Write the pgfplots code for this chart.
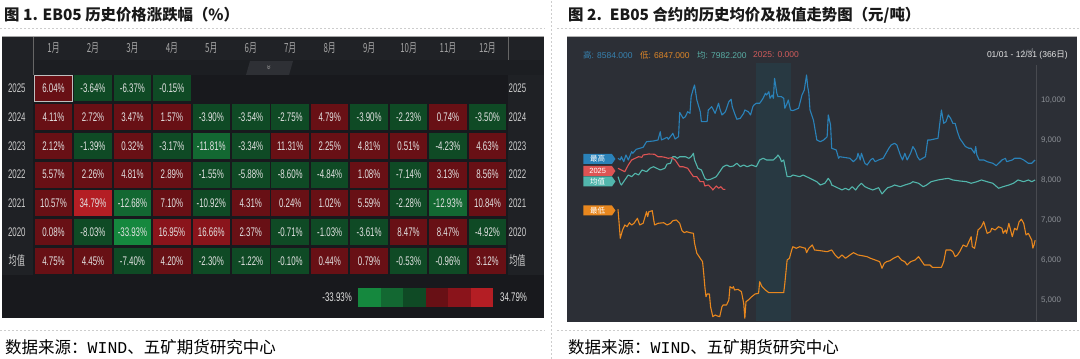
\documentclass[border=0pt]{standalone}
\usepackage{fontspec}
\usepackage{pgfplots}
\pgfplotsset{compat=1.18}
\usepackage{pgfplotstable}
\usetikzlibrary{shapes.symbols}
\setmainfont{Liberation Sans}
\setmonofont{Liberation Mono}
\newfontfamily\cjk{Noto Sans CJK SC}
\newfontfamily\narrow{Liberation Sans}[FakeStretch=0.63]
\newfontfamily\cjknarrow{Noto Sans CJK SC}[FakeStretch=0.63]

\definecolor{panelL}{RGB}{24,25,29}
\definecolor{hdrL}{RGB}{32,34,38}
\definecolor{colL}{RGB}{31,33,37}
\definecolor{arrowrow}{RGB}{28,30,34}
\definecolor{tabc}{RGB}{46,48,53}
\definecolor{hr1}{RGB}{104,16,21}
\definecolor{hr2}{RGB}{138,20,27}
\definecolor{hr3}{RGB}{180,30,36}
\definecolor{hg1}{RGB}{15,74,37}
\definecolor{hg2}{RGB}{19,104,50}
\definecolor{hg3}{RGB}{21,136,62}
\definecolor{celltxt}{RGB}{226,226,226}
\definecolor{hdrtxt}{RGB}{165,165,165}
\definecolor{panelR}{RGB}{44,47,54}
\definecolor{bandc}{RGB}{40,57,66}
\definecolor{cblue}{RGB}{42,130,185}
\definecolor{cteal}{RGB}{82,182,172}
\definecolor{cred}{RGB}{222,84,84}
\definecolor{corange}{RGB}{232,135,30}
\definecolor{tickc}{RGB}{140,144,150}
\definecolor{dashc}{RGB}{205,205,205}

\pgfdeclareplotmark{cell}{\pgfpathrectangle{\pgfpoint{-18.75pt}{-13pt}}{\pgfpoint{37.5pt}{26pt}}\pgfusepathqfill}
\pgfdeclareplotmark{cellframe}{\pgfpathrectangle{\pgfpoint{-18.75pt}{-13pt}}{\pgfpoint{37.5pt}{26pt}}\pgfusepathqstroke}

\pgfplotsset{cellplot/.style={only marks, mark=cell, color=#1, mark options={fill=#1, draw=none},
  point meta=\thisrow{v},
  nodes near coords={\pgfmathprintnumber[fixed,fixed zerofill,precision=2,assume math mode=true]{\pgfplotspointmeta}\%},
  nodes near coords align=center,
  every node near coord/.append style={anchor=center, text=celltxt, inner sep=0pt,
    font=\narrow\fontsize{12.5}{12.5}\selectfont}}}

% cells: x = month index (0 = Jan), y = row (0 = 2025 ... 5 = 2020, 6 = mean), v = change in %
\pgfplotstableread{
x y v
0 0 6.04
0 1 4.11
1 1 2.72
2 1 3.47
3 1 1.57
7 1 4.79
10 1 0.74
0 2 2.12
2 2 0.32
6 2 11.31
7 2 2.25
8 2 4.81
9 2 0.51
11 2 4.63
0 3 5.57
1 3 2.26
2 3 4.81
3 3 2.89
8 3 1.08
10 3 3.13
11 3 8.56
0 4 10.57
3 4 7.10
5 4 4.31
6 4 0.24
7 4 1.02
8 4 5.59
11 4 10.84
0 5 0.08
5 5 2.37
9 5 8.47
10 5 8.47
0 6 4.75
1 6 4.45
3 6 4.20
7 6 0.44
8 6 0.79
11 6 3.12
}\hrA
\pgfplotstableread{
x y v
3 5 16.95
4 5 16.66
}\hrB
\pgfplotstableread{
x y v
1 4 34.79
}\hrC
\pgfplotstableread{
x y v
1 0 -3.64
2 0 -6.37
3 0 -0.15
4 1 -3.90
5 1 -3.54
6 1 -2.75
8 1 -3.90
9 1 -2.23
11 1 -3.50
1 2 -1.39
3 2 -3.17
5 2 -3.34
10 2 -4.23
4 3 -1.55
5 3 -5.88
6 3 -8.60
7 3 -4.84
9 3 -7.14
4 4 -10.92
9 4 -2.28
1 5 -8.03
6 5 -0.71
7 5 -1.03
8 5 -3.61
11 5 -4.92
2 6 -7.40
4 6 -2.30
5 6 -1.22
6 6 -0.10
9 6 -0.53
10 6 -0.96
}\hgA
\pgfplotstableread{
x y v
4 2 -11.81
2 4 -12.68
10 4 -12.93
}\hgB
\pgfplotstableread{
x y v
2 5 -33.93
}\hgC

\pgfplotstableread{
d v
1 8555
3 8513
4 8595
6 8470
8 8638
10 8513
13 8721
14 8681
17 8781
20 8806
23 8831
26 8972
32 8989
36 9014
38 9223
39 9014
44 9082
45 9032
48 9140
49 9183
51 9039
54 9097
55 9709
58 9559
60 9599
62 9724
64 9684
65 10101
67 10312
68 10394
70 10018
73 9724
74 9474
79 9474
80 9767
83 9850
86 9684
89 9935
90 9810
92 9642
95 9724
98 9975
100 10036
101 9850
103 9684
105 9534
108 9559
111 9684
112 9767
115 9724
117 9642
119 9850
120 9893
122 9935
125 9935
128 10061
130 10186
131 10143
133 10226
134 10061
136 10143
137 10061
138 10562
140 10186
141 10101
144 10101
146 10061
147 9810
149 9935
150 10018
152 9767
154 9750
159 9810
162 10143
164 10269
166 10645
167 10352
168 10186
169 9767
172 9516
175 9014
178 8972
181 9014
184 9097
185 9642
187 9391
188 8806
192 8764
194 8555
195 8595
204 8555
207 8470
210 8555
211 8681
213 8513
214 8681
216 8513
217 8430
219 8387
222 8513
224 8555
226 8470
229 8513
233 8555
238 8806
240 8889
243 8932
245 8889
248 8638
250 8513
252 8681
254 8513
257 8681
259 8849
261 8764
263 8595
265 8513
270 8595
272 9014
274 9014
281 9057
284 9767
286 9433
288 9474
290 9642
292 9559
294 9433
296 9433
298 9223
300 9057
303 8932
305 8849
308 8806
310 8806
313 8681
314 8849
315 8638
317 8513
321 8513
324 8470
329 8430
332 8370
337 8513
340 8555
341 8470
346 8513
348 8555
353 8555
356 8513
360 8430
363 8430
365 8488
366 8513
}\hidata

\pgfplotstableread{
d v
1 8094
3 7928
4 7885
7 8011
10 8136
13 8094
16 8179
19 8136
22 8262
26 8219
29 8304
32 8344
35 8304
38 8262
42 8304
44 8412
47 8430
49 8595
51 8595
53 8555
55 8595
60 8595
63 8555
65 8595
67 8681
68 8513
71 8304
74 8262
77 8053
79 8011
82 8028
84 8053
87 8094
90 8219
93 8344
96 8387
99 8344
102 8362
105 8430
108 8344
111 8387
114 8344
118 8387
122 8344
125 8513
128 8555
131 8513
134 8513
137 8513
140 8595
141 8638
143 8555
144 8470
146 8513
149 8094
152 8094
154 8136
160 8094
163 8136
166 8094
169 8053
172 8011
175 7968
178 7885
182 7928
185 8053
187 7968
188 7885
191 7843
194 7803
197 7760
200 7803
203 7760
206 7843
209 7760
211 7843
214 7928
217 7843
220 7803
224 7760
229 7818
232 7660
235 7760
237 7818
240 7843
243 7885
248 7843
252 7885
257 7928
259 7968
264 7928
268 7843
271 7885
275 7968
281 8011
286 8036
290 8053
294 8011
300 7986
306 7968
310 7928
315 7968
319 8011
324 7968
329 7928
334 7803
338 7843
343 7885
347 7928
351 8011
356 7968
360 8011
363 7968
366 8011
}\avgdata

\pgfplotstableread{
d v
1 8304
4 8262
7 8219
10 8387
13 8513
16 8555
19 8595
22 8580
23 8638
28 8663
33 8656
36 8595
39 8595
42 8580
45 8555
48 8570
51 8513
53 8430
55 8344
58 8344
62 8304
64 8219
67 8094
70 8094
73 7968
76 7968
77 7860
80 7885
83 7803
84 7760
87 7860
89 7803
91 7843
93 7777
95 7777
}\curdata

\pgfplotstableread{
d v
1 7276
2 6924
3 6548
5 6756
7 6882
9 6839
11 6939
13 6882
15 6924
18 7050
20 6882
23 6924
26 7215
27 7090
28 7215
31 7240
33 6882
36 6924
41 6939
44 6882
47 6924
49 6990
52 7007
55 6924
57 6739
59 6689
61 6714
64 6689
67 6673
68 6423
70 6172
73 6046
75 5961
76 5670
77 5334
78 5083
79 5151
81 5151
82 4832
84 4581
86 4624
88 4599
90 4581
92 4832
93 4875
96 4875
98 5000
99 5334
101 5294
102 5334
103 5251
106 5268
109 5208
111 4917
112 4541
113 4957
115 5000
118 5083
121 5151
124 5168
125 5459
127 5334
130 5251
133 5183
137 5183
146 5183
147 5419
149 6004
151 6046
153 6255
154 6337
157 6297
160 6337
165 6297
166 6187
168 6297
171 6380
173 6255
178 6237
184 6212
188 6255
191 6129
194 6046
197 6129
200 6046
204 6129
207 6187
211 6129
216 6104
219 6086
222 6046
226 6004
230 5961
232 5795
234 5921
236 5961
239 5986
242 6046
245 6086
246 6104
249 6004
252 5961
254 5878
257 5961
261 6004
264 6086
266 6004
269 5878
272 5878
274 5878
276 5820
284 5820
286 5961
288 6255
292 6255
294 6212
296 6086
298 6129
300 6212
303 6380
306 6337
308 6463
310 6588
311 6337
313 6297
315 6588
316 6756
319 6839
321 6965
324 6673
327 6714
328 6799
331 6756
334 6839
337 6799
338 6673
340 6756
341 6673
343 6924
346 6588
348 6799
350 6756
352 6965
354 7025
356 6924
358 6631
360 6673
363 6505
364 6300
365 6380
366 6500
}\lodata

\begin{document}
\begin{tikzpicture}
\useasboundingbox (0pt,0pt) rectangle (1080pt,359pt);
\begin{scope}[x=1pt,y=1pt]
% titles
\node[anchor=west,inner sep=0pt,text=black!90] at (4,344) {\cjk\bfseries\fontsize{15.4}{15.4}\selectfont 图 1. EB05 历史价格涨跌幅（\%）};
\node[anchor=west,inner sep=0pt,text=black!90] at (568,344) {\cjk\bfseries\fontsize{15.4}{15.4}\selectfont 图 2.\hspace{8pt}EB05 合约的历史均价及极值走势图（元/吨）};
% separators
\draw[dashc,dash pattern=on 2pt off 2pt,line width=0.6pt] (0,331) -- (545,331);
\draw[dashc,dash pattern=on 2pt off 2pt,line width=0.6pt] (557,331) -- (1080,331);
\draw[dashc,dash pattern=on 2pt off 2pt,line width=0.6pt] (0,29) -- (545,29);
\draw[dashc,dash pattern=on 2pt off 2pt,line width=0.6pt] (557,29) -- (1080,29);
\draw[dashc,dash pattern=on 2pt off 2pt,line width=0.6pt] (551,0) -- (551,359);
% sources
\node[anchor=west,inner sep=0pt] at (5,12) {\cjk\fontsize{16.5}{16.5}\selectfont 数据来源：{\ttfamily WIND}、五矿期货研究中心};
\node[anchor=west,inner sep=0pt] at (568,12) {\cjk\fontsize{16.5}{16.5}\selectfont 数据来源：{\ttfamily WIND}、五矿期货研究中心};
% left panel background
\fill[panelL] (2,41) rectangle (544,323);
\fill[hdrL] (2,299) rectangle (544,323);
\fill[arrowrow] (33,284) rectangle (544,299);
\fill[colL] (2,84) rectangle (33,299);
\fill[colL] (508,84) rectangle (544,284);
\draw[black!60,line width=0.4pt] (33,284) -- (33,323);
\draw[black!60,line width=0.4pt] (508,299) -- (508,323);
\draw[gray!70,line width=0.8pt] (2,322.6) -- (544,322.6);
\fill[tabc] (246,284) -- (250,298) -- (293,298) -- (289,284) -- cycle;
\node[text=gray!80,rotate=-90,inner sep=0pt] at (268.5,291) {\fontsize{8}{8}\selectfont »};
% colour scale
\fill[hg3] (358,52) rectangle (380.5,71);
\fill[hg2] (380.5,52) rectangle (403,71);
\fill[hg1] (403,52) rectangle (425.5,71);
\fill[hr1] (425.5,52) rectangle (448,71);
\fill[hr2] (448,52) rectangle (470.5,71);
\fill[hr3] (470.5,52) rectangle (493,71);
\node[anchor=east,text=celltxt,inner sep=0pt] at (352,61.5) {\narrow\fontsize{12.5}{12.5}\selectfont -33.93\%};
\node[anchor=west,text=celltxt,inner sep=0pt] at (500,61.5) {\narrow\fontsize{12.5}{12.5}\selectfont 34.79\%};
% right panel background
\fill[panelR] (567,37) rectangle (1077,323);
\draw[gray!60,line width=0.8pt] (567,322.6) -- (1077,322.6);
\draw[black!10!panelR!85!white,line width=0.4pt] (1036,38) -- (1036,294);
% legend header of right chart
\node[anchor=west,inner sep=0pt,text=cblue!85!gray] at (583,304) {\fontsize{8.5}{8.5}\selectfont{\cjk 高}: 8584.000};
\node[anchor=west,inner sep=0pt,text=corange!90!gray] at (640,304) {\fontsize{8.5}{8.5}\selectfont{\cjk 低}: 6847.000};
\node[anchor=west,inner sep=0pt,text=cteal!85!gray] at (697,304) {\fontsize{8.5}{8.5}\selectfont{\cjk 均}: 7982.200};
\node[anchor=west,inner sep=0pt,text=cred!85!gray] at (753,304) {\fontsize{8.5}{8.5}\selectfont 2025: 0.000};
\node[anchor=east,inner sep=0pt,text=white!80!gray] at (1068,304) {\fontsize{8.5}{8.5}\selectfont 01/01 - 12/31 (366{\cjk 日})};
\end{scope}

% heat map
\begin{axis}[at={(33.8pt,83.6pt)}, anchor=south west, scale only axis,
  width=473.4pt, height=201.6pt, xmin=-0.5, xmax=11.5, ymin=-0.5, ymax=6.5,
  y dir=reverse, axis lines=none, clip=false]
\addplot[cellplot=hr1] table[x=x, y=y] {\hrA};
\addplot[cellplot=hr2] table[x=x, y=y] {\hrB};
\addplot[cellplot=hr3] table[x=x, y=y] {\hrC};
\addplot[cellplot=hg1] table[x=x, y=y] {\hgA};
\addplot[cellplot=hg2] table[x=x, y=y] {\hgB};
\addplot[cellplot=hg3] table[x=x, y=y] {\hgC};
\addplot[only marks, mark=cellframe, mark options={draw=white!75!black, line width=0.9pt}] coordinates {(0,0)};
\foreach \m [count=\i from 0] in {1月,2月,3月,4月,5月,6月,7月,8月,9月,10月,11月,12月}{
  \edef\tmp{\noexpand\node[text=hdrtxt,inner sep=0pt] at (axis cs:\i,-1.4) {\noexpand\cjknarrow\noexpand\fontsize{12.5}{12.5}\noexpand\selectfont \m};}\tmp
}
\foreach \yy [count=\j from 0] in {2025,2024,2023,2022,2021,2020}{
  \edef\tmp{\noexpand\node[text=white!80!black,inner sep=0pt] at (axis cs:-0.93,\j) {\noexpand\narrow\noexpand\fontsize{12.5}{12.5}\noexpand\selectfont \yy};
  \noexpand\node[text=white!80!black,inner sep=0pt] at (axis cs:11.76,\j) {\noexpand\narrow\noexpand\fontsize{12.5}{12.5}\noexpand\selectfont \yy};}\tmp
}
\node[text=white!80!black,inner sep=0pt] at (axis cs:-0.93,6) {\cjknarrow\fontsize{13}{13}\selectfont 均值};
\node[text=white!80!black,inner sep=0pt] at (axis cs:11.76,6) {\cjknarrow\fontsize{13}{13}\selectfont 均值};
\end{axis}

% price chart
\begin{axis}[at={(567pt,38pt)}, anchor=south west, scale only axis,
  width=469pt, height=258pt, xmin=-43.6, xmax=366.75, ymin=4473, ymax=10946,
  axis line style={draw=none}, xtick=\empty, major tick length=0pt,
  ytick={5000,6000,7000,8000,9000,10000},
  yticklabels={{5,000},{6,000},{7,000},{8,000},{9,000},{10,000}},
  yticklabel pos=right,
  y tick label style={anchor=west, xshift=1.5pt, text=tickc, font=\fontsize{8}{8}\selectfont},
  clip=false]
\addplot[fill=bandc, draw=none] coordinates {(121.75,4473) (152.4,4473) (152.4,10946) (121.75,10946)};
\addplot[cteal, line width=1.1pt, line join=round] table[x=d,y=v] {\avgdata};
\addplot[cblue, line width=1.1pt, line join=round] table[x=d,y=v] {\hidata};
\addplot[cred, line width=1.1pt, line join=round] table[x=d,y=v] {\curdata};
\addplot[corange, line width=1.1pt, line join=round] table[x=d,y=v] {\lodata};
\node[signal, signal to=east, signal pointer angle=110, fill=cblue, text=white, inner sep=0.8pt,
  minimum height=10pt, minimum width=32pt, anchor=east, font=\cjk\fontsize{7.5}{7.5}\selectfont] at (axis cs:-1,8538) {最高};
\node[signal, signal to=east, signal pointer angle=110, fill=cred, text=white, inner sep=0.8pt,
  minimum height=10pt, minimum width=32pt, anchor=east, font=\fontsize{7.5}{7.5}\selectfont] at (axis cs:-1,8237) {2025};
\node[signal, signal to=east, signal pointer angle=110, fill=cteal, text=white, inner sep=0.8pt,
  minimum height=10pt, minimum width=32pt, anchor=east, font=\cjk\fontsize{7.5}{7.5}\selectfont] at (axis cs:-1,7973) {均值};
\node[signal, signal to=east, signal pointer angle=110, fill=corange, text=white, inner sep=0.8pt,
  minimum height=10pt, minimum width=32pt, anchor=east, font=\cjk\fontsize{7.5}{7.5}\selectfont] at (axis cs:-1,7246) {最低};
\end{axis}
\end{tikzpicture}
\end{document}
